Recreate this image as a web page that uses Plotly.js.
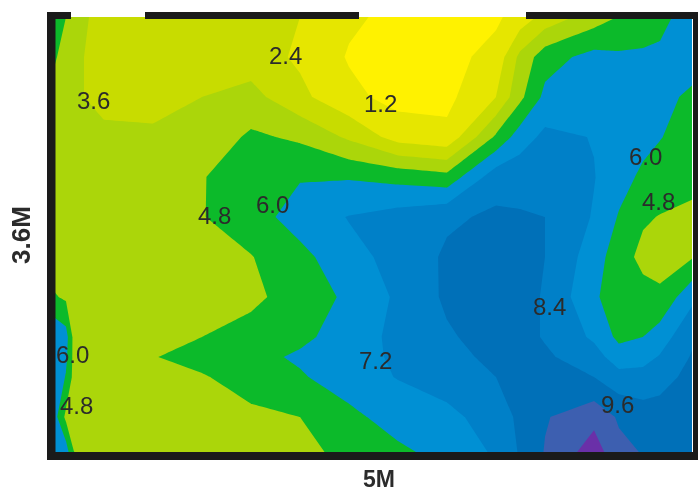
<!DOCTYPE html>
<html><head><meta charset="utf-8">
<script src="https://cdn.plot.ly/plotly-3.0.1.min.js"></script>
<style>html,body{margin:0;padding:0;background:#fff}#c{width:698px;height:493px;filter:blur(0.5px)}</style>
</head><body><div id="c"></div>
<script>
const gridX=[55,66,74,104,153,202,251,300,349,398,447,496,520,545,594,619,643,660,692];
const gridY=[17,57,97,137,177,217,257,297,337,357,377,417,457];
const zRows=[
[5.8,4.8,3.9,3.3,3.1,3.0,2.8,2.4,1.4,0.9,0.8,1.0,1.7,2.8,4.2,4.85,5.3,5.7,6.5],
[5.0,3.9,3.7,3.4,3.1,3.0,3.0,2.2,1.1,0.8,0.8,1.6,3.9,5.5,6.4,6.2,6.2,6.2,6.5],
[3.9,3.9,3.8,3.2,3.0,3.6,4.0,2.7,1.5,0.8,0.9,2.4,4.5,6.3,6.6,6.6,6.6,6.3,5.8],
[4,4,4,3.9,3.9,4.0,5.0,4.6,3.4,1.9,1.5,5.0,6.6,7.5,7.15,6.8,6.4,6.05,5.5],
[4,4,4,4,4.2,4.75,5.3,5.9,5.9,5.6,5.2,7.9,8.0,7.9,7.25,6.5,5.75,5.5,5.2],
[4,4,4,4,4.2,4.75,5.4,6.6,7.25,7.7,8.2,8.6,8.5,8.4,7.1,5.9,4.95,4.75,4.5],
[4.0,4.1,4,4,4,4,4.75,5.6,6.9,7.5,8.6,8.8,8.8,8.4,6.6,5.3,4.5,4.4,4.7],
[4.9,4.6,4.2,4,4,4,4.5,5.4,6.2,7.4,8.6,8.9,8.8,8.3,6.2,5.3,5.2,5.0,6.9],
[7,6.5,4.4,4,4.2,4.8,5.3,5.7,6.6,7.5,8.25,8.9,8.8,8.3,7.0,5.7,6.0,6.6,8.2],
[7,6.3,4.4,4,4.75,5.2,5.6,6.2,6.7,7.4,8.0,8.7,8.8,8.6,7.7,6.6,6.8,7.3,8.5],
[7,5.9,4.4,4,4,4.7,5.3,5.85,6.7,7.25,7.9,8.4,8.75,8.9,8.4,7.6,7.6,7.9,8.8],
[6.4,4.5,4.2,4,4,4.2,4.55,4.8,5.65,6.6,6.8,7.9,8.6,9.5,10.4,9.45,9.0,9.0,8.9],
[7,7,4.9,4,4,4,4.2,4.4,5.1,5.6,6.35,7.3,8.5,9.7,11.6,10,9.6,9.3,8.9]
];
const bandColors=['#fff200','#e6e600','#c8dc00','#abd60a','#0cba2a','#0090d4','#0080c8','#0070b8','#3d5fb0','#6a30a8'];
const labelText=['2.4','3.6','1.2','6.0','4.8','6.0','4.8','8.4','6.0','7.2','4.8','9.6'];
const labelX=[285,93,380,272,214,645,658,549,72,375,76,617];
const labelY=[55,100,103,204,215,156,201,306,354,360,405,404];
const xTitle='<b>5M</b>', yTitle='<b>3.6M</b>';

const scale=[];
bandColors.forEach((c,i)=>{scale.push([i/bandColors.length,c]);scale.push([(i+1)/bandColors.length,c]);});

const W=698,H=493,L=55,R=693,T=17,B=453;
const px=x=>(x-L)/(R-L), py=y=>(B-y)/(B-T);
const bar=(x0,y0,x1,y1)=>({type:'rect',xref:'paper',yref:'paper',x0:px(x0),x1:px(x1),y0:py(y0),y1:py(y1),fillcolor:'#1a1a1a',line:{width:0},layer:'above'});

Plotly.newPlot('c',[{
  type:'contour',x:gridX,y:gridY,z:zRows,zmin:0,zmax:12,
  autocontour:false,contours:{start:1.2,end:10.8,size:1.2,coloring:'fill',showlines:false},
  line:{width:0,smoothing:0},colorscale:scale,showscale:false,hoverinfo:'skip'
}],{
  width:W,height:H,margin:{l:L,r:W-R,t:T,b:H-B},paper_bgcolor:'#fff',plot_bgcolor:'#fff',showlegend:false,
  xaxis:{range:[L,R],showgrid:false,zeroline:false,showticklabels:false,ticks:'',showline:false},
  yaxis:{range:[B,T],showgrid:false,zeroline:false,showticklabels:false,ticks:'',showline:false},
  shapes:[bar(47,12,55.5,460),bar(47,452,698,460),bar(693,12,698,460),bar(47,12,71,19),bar(145,12,359,19),bar(526,12,698,19)],
  annotations:labelText.map((t,i)=>({x:labelX[i],y:labelY[i],text:t,showarrow:false,xanchor:'center',yanchor:'middle',
     font:{family:'Liberation Sans',size:24,color:'#2b2b2b'}})).concat([
     {xref:'paper',yref:'paper',x:px(379),y:py(479),text:xTitle,showarrow:false,xanchor:'center',yanchor:'middle',font:{family:'Liberation Sans',size:23,color:'#2b2b2b'}},
     {xref:'paper',yref:'paper',x:px(21),y:py(235),text:yTitle,textangle:-90,showarrow:false,xanchor:'center',yanchor:'middle',font:{family:'Liberation Sans',size:26,color:'#2b2b2b'}}
  ])
},{displayModeBar:false,staticPlot:true});
</script></body></html>
